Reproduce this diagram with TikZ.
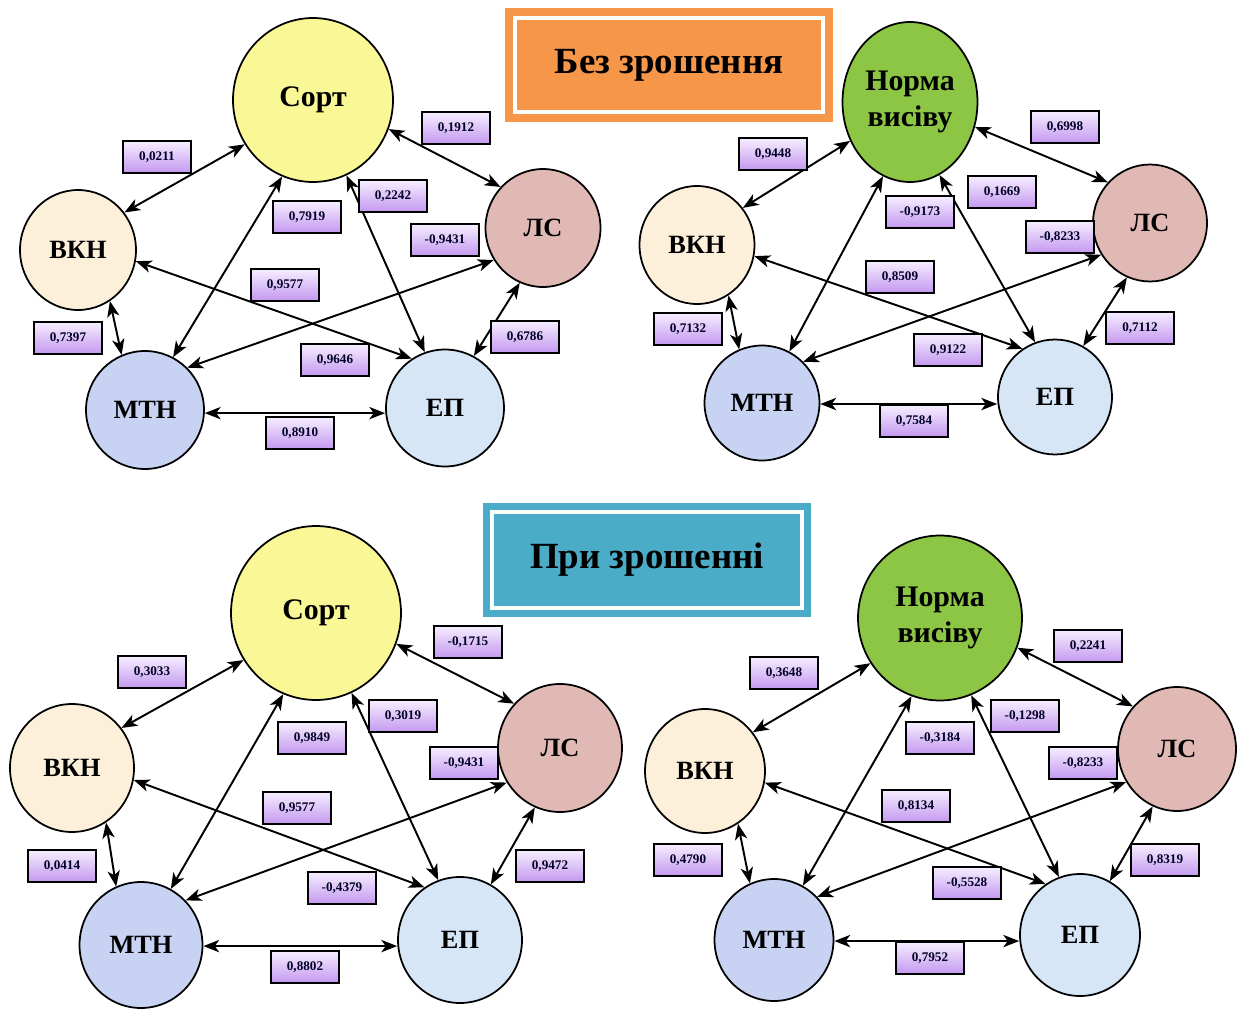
\documentclass[tikz,border=0pt]{standalone}
\usepackage{fontspec}
\setmainfont{Liberation Serif}
\usetikzlibrary{shapes.geometric, arrows.meta, calc}
\definecolor{sortcolor}{RGB}{250, 248, 150}
\definecolor{normcolor}{RGB}{140, 198, 68}
\definecolor{vkncolor}{RGB}{252, 240, 218}
\definecolor{lscolor}{RGB}{224, 184, 180}
\definecolor{mtncolor}{RGB}{200, 210, 242}
\definecolor{epcolor}{RGB}{214, 230, 246}
\definecolor{coeftop}{RGB}{246, 238, 255}
\definecolor{coefbot}{RGB}{196, 152, 240}
\definecolor{drycolor}{RGB}{245, 150, 72}
\definecolor{wetcolor}{RGB}{74, 172, 198}

\begin{document}
\begin{tikzpicture}[
    x=0.02cm, y=-0.02cm,
    factor/.style={ellipse, draw, line width=1pt, inner sep=0pt, font=\fontsize{15}{17}\selectfont\bfseries},
    main/.style={factor, align=center, font=\fontsize{17}{20}\selectfont\bfseries},
    coef/.style={draw, line width=1.5pt, top color=coeftop, bottom color=coefbot, minimum width=1.36cm, minimum height=0.64cm, inner sep=0pt, font=\fontsize{7.5}{9}\selectfont\bfseries, text=black!85!blue},
    header/.style={minimum width=6.56cm, minimum height=2.28cm, inner sep=0pt, font=\fontsize{21}{24}\selectfont\bfseries},
    link/.style={{Stealth[length=9pt,width=7pt,inset=2.5pt]}-{Stealth[length=9pt,width=7pt,inset=2.5pt]}, line width=1.1pt},
]
    \useasboundingbox (0,0) rectangle (1238,1014);

    % Headers
    \node[header, fill=drycolor] (dry) at (669,65) {Без зрошення};
    \draw[white, line width=2.2pt] ($(dry.north west)+(10,10)$) rectangle ($(dry.south east)+(-10,-10)$);
    \node[header, fill=wetcolor] (wet) at (647,560) {При зрошенні};
    \draw[white, line width=2.2pt] ($(wet.north west)+(9,9)$) rectangle ($(wet.south east)+(-9,-9)$);

    % Without irrigation: variety
    \node[main, fill=sortcolor, minimum width=3.2cm, minimum height=3.28cm] (sortA) at (313,100) {Сорт};
    \node[factor, fill=vkncolor, minimum width=2.32cm, minimum height=2.4cm] (vknA) at (78,250) {ВКН};
    \node[factor, fill=lscolor, minimum width=2.3cm, minimum height=2.36cm] (lsA) at (543,228) {ЛС};
    \node[factor, fill=mtncolor, minimum width=2.36cm, minimum height=2.36cm] (mtnA) at (145,410) {МТН};
    \node[factor, fill=epcolor, minimum width=2.36cm, minimum height=2.34cm] (epA) at (445,408) {ЕП};

    \draw[link] (sortA.213) -- (vknA.39);
    \draw[link] (sortA.-21) -- (lsA.136);
    \draw[link] (sortA.-112) -- (mtnA.62);
    \draw[link] (sortA.-66) -- (epA.110);
    \draw[link] (vknA.-11) -- (epA.124);
    \draw[link] (vknA.-58) -- (mtnA.113);
    \draw[link] (lsA.213) -- (mtnA.45);
    \draw[link] (lsA.-113) -- (epA.61);
    \draw[link] (mtnA.-3) -- (mtnA.-3 -| epA.west);

    \node[coef] (kA1) at (157,157) {0,0211};
    \node[coef] (kA2) at (456,128) {0,1912};
    \node[coef] (kA3) at (307,217) {0,7919};
    \node[coef] (kA4) at (393,196) {0,2242};
    \node[coef] (kA5) at (445,240) {-0,9431};
    \node[coef] (kA6) at (285,285) {0,9577};
    \node[coef] (kA7) at (68,338) {0,7397};
    \node[coef] (kA8) at (335,360) {0,9646};
    \node[coef] (kA9) at (525,337) {0,6786};
    \node[coef] (kA10) at (300,433) {0,8910};

    % Without irrigation: seeding rate
    \node[main, fill=normcolor, minimum width=2.7cm, minimum height=3.2cm] (normB) at (910,102) {Норма\\висіву};
    \node[factor, fill=vkncolor, minimum width=2.3cm, minimum height=2.36cm] (vknB) at (697,245) {ВКН};
    \node[factor, fill=lscolor, minimum width=2.28cm, minimum height=2.34cm] (lsB) at (1150,223) {ЛС};
    \node[factor, fill=mtncolor, minimum width=2.3cm, minimum height=2.3cm] (mtnB) at (762,403) {МТН};
    \node[factor, fill=epcolor, minimum width=2.28cm, minimum height=2.3cm] (epB) at (1055,397) {ЕП};

    \draw[link] (normB.213) -- (vknB.39);
    \draw[link] (normB.-21) -- (lsB.136);
    \draw[link] (normB.-110) -- (mtnB.62);
    \draw[link] (normB.-68) -- (epB.110);
    \draw[link] (vknB.-11) -- (epB.124);
    \draw[link] (vknB.-58) -- (mtnB.113);
    \draw[link] (lsB.213) -- (mtnB.45);
    \draw[link] (lsB.-113) -- (epB.61);
    \draw[link] (mtnB.-1) -- (mtnB.-1 -| epB.west);

    \node[coef] (kB1) at (773,154) {0,9448};
    \node[coef] (kB2) at (1065,127) {0,6998};
    \node[coef] (kB3) at (920,212) {-0,9173};
    \node[coef] (kB4) at (1002,192) {0,1669};
    \node[coef] (kB5) at (1060,237) {-0,8233};
    \node[coef] (kB6) at (900,277) {0,8509};
    \node[coef] (kB7) at (688,329) {0,7132};
    \node[coef] (kB8) at (948,350) {0,9122};
    \node[coef] (kB9) at (1140,328) {0,7112};
    \node[coef] (kB10) at (914,421) {0,7584};

    % Irrigation: variety
    \node[main, fill=sortcolor, minimum width=3.4cm, minimum height=3.48cm] (sortC) at (316,613) {Сорт};
    \node[factor, fill=vkncolor, minimum width=2.48cm, minimum height=2.56cm] (vknC) at (72,768) {ВКН};
    \node[factor, fill=lscolor, minimum width=2.48cm, minimum height=2.56cm] (lsC) at (560,748) {ЛС};
    \node[factor, fill=mtncolor, minimum width=2.46cm, minimum height=2.52cm] (mtnC) at (141,945) {МТН};
    \node[factor, fill=epcolor, minimum width=2.48cm, minimum height=2.52cm] (epC) at (460,940) {ЕП};

    \draw[link] (sortC.213) -- (vknC.39);
    \draw[link] (sortC.-21) -- (lsC.136);
    \draw[link] (sortC.-112) -- (mtnC.62);
    \draw[link] (sortC.-66) -- (epC.110);
    \draw[link] (vknC.-11) -- (epC.124);
    \draw[link] (vknC.-58) -- (mtnC.113);
    \draw[link] (lsC.213) -- (mtnC.45);
    \draw[link] (lsC.-113) -- (epC.61);
    \draw[link] (mtnC.-1) -- (mtnC.-1 -| epC.west);

    \node[coef] (kC1) at (152,672) {0,3033};
    \node[coef] (kC2) at (468,642) {-0,1715};
    \node[coef] (kC3) at (312,738) {0,9849};
    \node[coef] (kC4) at (403,716) {0,3019};
    \node[coef] (kC5) at (464,763) {-0,9431};
    \node[coef] (kC6) at (297,808) {0,9577};
    \node[coef] (kC7) at (62,866) {0,0414};
    \node[coef] (kC8) at (342,888) {-0,4379};
    \node[coef] (kC9) at (550,866) {0,9472};
    \node[coef] (kC10) at (305,967) {0,8802};

    % Irrigation: seeding rate
    \node[main, fill=normcolor, minimum width=3.28cm, minimum height=3.3cm] (normD) at (940,618) {Норма\\висіву};
    \node[factor, fill=vkncolor, minimum width=2.4cm, minimum height=2.48cm] (vknD) at (705,771) {ВКН};
    \node[factor, fill=lscolor, minimum width=2.36cm, minimum height=2.48cm] (lsD) at (1177,749) {ЛС};
    \node[factor, fill=mtncolor, minimum width=2.38cm, minimum height=2.44cm] (mtnD) at (774,940) {МТН};
    \node[factor, fill=epcolor, minimum width=2.4cm, minimum height=2.44cm] (epD) at (1080,935) {ЕП};

    \draw[link] (normD.213) -- (vknD.39);
    \draw[link] (normD.-21) -- (lsD.136);
    \draw[link] (normD.-110) -- (mtnD.62);
    \draw[link] (normD.-68) -- (epD.110);
    \draw[link] (vknD.-11) -- (epD.124);
    \draw[link] (vknD.-58) -- (mtnD.113);
    \draw[link] (lsD.213) -- (mtnD.45);
    \draw[link] (lsD.-113) -- (epD.61);
    \draw[link] (mtnD.-1) -- (mtnD.-1 -| epD.west);

    \node[coef] (kD1) at (784,673) {0,3648};
    \node[coef] (kD2) at (1088,646) {0,2241};
    \node[coef] (kD3) at (940,738) {-0,3184};
    \node[coef] (kD4) at (1025,716) {-0,1298};
    \node[coef] (kD5) at (1083,763) {-0,8233};
    \node[coef] (kD6) at (916,806) {0,8134};
    \node[coef] (kD7) at (688,860) {0,4790};
    \node[coef] (kD8) at (967,883) {-0,5528};
    \node[coef] (kD9) at (1165,860) {0,8319};
    \node[coef] (kD10) at (930,958) {0,7952};

\end{tikzpicture}
\end{document}
